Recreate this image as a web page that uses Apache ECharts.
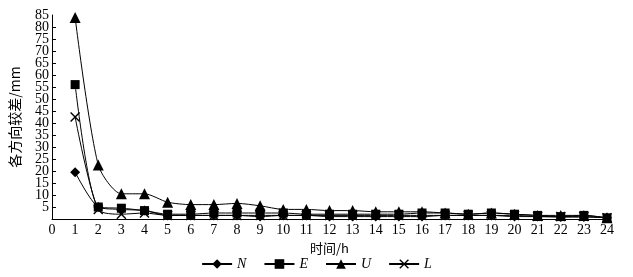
<!DOCTYPE html>
<html><head><meta charset="utf-8">
<script src="https://cdn.jsdelivr.net/npm/echarts@6/dist/echarts.min.js"></script>
<style>html,body{margin:0;padding:0;background:#fff}#c{width:633px;height:277px}</style>
</head><body><div id="c"></div>
<script>
const hours = [1,2,3,4,5,6,7,8,9,10,11,12,13,14,15,16,17,18,19,20,21,22,23,24];
const N = [19.5,5,4,3.5,1.5,1.5,1.5,1.5,1,1.5,1.5,1,1,1,1,1,1.5,1.5,1.5,1,1,0.8,0.8,0.5];
const E = [56,5,4.5,3.5,2,2,2.5,2.5,2.5,2.5,2,2,2,2,2,2.5,2.5,2,2.5,2,1.5,1,1.5,0.5];
const U = [84,22.5,10.5,10.5,7,6,6,6.5,5.5,4,4,3.5,3.5,3,3,3,2.5,2,2.5,2,1.5,1.5,1.5,0.5];
const L = [42.5,4,2,2.5,1.5,1.5,1.5,1.5,1.5,1.5,1.5,1.5,1.5,1.5,1.5,1.5,1.5,1.5,1.5,1.5,1,1,1,0.5];
const names = ['N','E','U','L'];
const yMax = 85;
const crossPath = 'path://M0,1L1,0L5,4L9,0L10,1L6,5L10,9L9,10L5,6L1,10L0,9L4,5Z';
const symbols = ['diamond','rect','triangle',crossPath];
const sizes = [10,9,11,10];
const datas = [N,E,U,L];
const font = "'Liberation Serif', 'Times New Roman', serif";
const cjk = "'Noto Sans CJK SC', sans-serif";
const labelStyle = {color:'#000',fontFamily:font,fontSize:14,margin:3};
const chart = echarts.init(document.getElementById('c'));
chart.setOption({
  animation:false,
  grid:{left:51,right:26,top:15,bottom:58},
  xAxis:{type:'value',min:0,max:24,interval:1,
    name:'时间/h',nameLocation:'middle',nameGap:19,
    nameTextStyle:{fontFamily:cjk,fontSize:13,color:'#000'},
    axisLine:{lineStyle:{color:'#000',width:1}},axisTick:{show:false},
    axisLabel:{color:'#000',fontFamily:font,fontSize:14,margin:4,showMinLabel:true,showMaxLabel:true},
    splitLine:{show:false}},
  yAxis:[{type:'value',min:0,max:yMax,interval:5,
    name:'各方向较差/mm',nameLocation:'middle',nameGap:30,
    nameTextStyle:{fontFamily:cjk,fontSize:14,color:'#000'},
    axisLine:{show:true,lineStyle:{color:'#000',width:1}},
    axisTick:{show:true,inside:true,length:4,lineStyle:{color:'#000'}},
    axisLabel:Object.assign({showMinLabel:false,showMaxLabel:false},labelStyle),
    splitLine:{show:false}},
  {type:'value',min:0,max:yMax,interval:yMax,position:'left',
    axisLine:{show:false},axisTick:{show:false},splitLine:{show:false},
    axisLabel:Object.assign({showMinLabel:false,showMaxLabel:true},labelStyle)}],
  legend:{bottom:1,left:'center',itemGap:17,itemWidth:30,itemHeight:12,
    textStyle:{fontFamily:font,fontStyle:'italic',fontSize:14,color:'#000'},
    data:names},
  series:names.map((n,i)=>({
    name:n,type:'line',smooth:0.25,
    data:hours.map((h,j)=>[h,datas[i][j]]),
    symbol:symbols[i],symbolSize:sizes[i],
    lineStyle:{color:'#000',width:1},
    itemStyle:{color:'#000'}
  }))
});
</script></body></html>
